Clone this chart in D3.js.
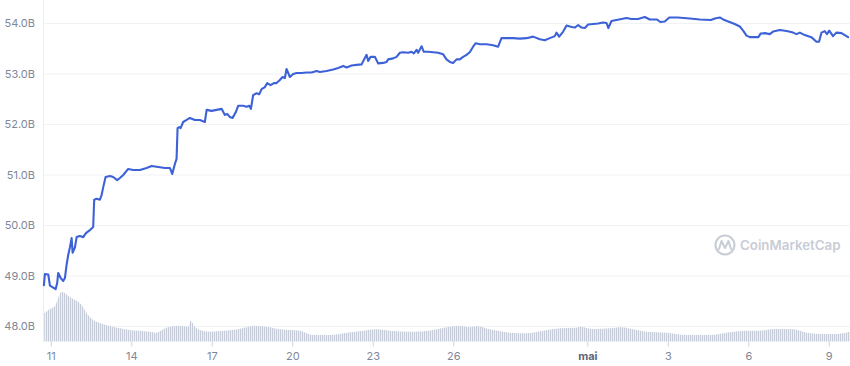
<!DOCTYPE html>
<html>
<head>
<meta charset="utf-8">
<script src="https://cdn.jsdelivr.net/npm/d3@7"></script>
<style>
  html, body { margin: 0; padding: 0; background: #fff; }
  svg { display: block; font-family: Inter, "Noto Sans", "DejaVu Sans", sans-serif; }
</style>
</head>
<body>
<svg id="chart" width="850" height="366"></svg>
<script>
// ---- DATA (hours since 2022-04-11 00:00, market cap in billions USD) ----
const startDate = new Date(2022, 3, 11, 0, 0);
const hours = [-6.2,-5.3,-2.3,-0.8,2.1,4.3,5.7,6.6,8.8,11.1,12.6,14.1,15.6,17.1,18.6,19.5,21.6,23.1,26.0,29.0,31.4,35.0,37.9,38.8,41.0,43.9,45.4,46.9,49.0,52.9,55.8,59.4,61.8,64.8,69.2,73.7,79.7,85.7,90.2,96.1,102.1,106.5,108.6,111.0,112.5,113.4,114.9,116.1,118.4,121.5,124.4,128.9,133.4,137.8,139.4,143.8,148.3,152.8,155.7,157.8,160.2,162.6,165.6,167.6,172.1,175.1,177.5,179.0,181.0,184.1,186.4,188.6,191.5,193.6,196.6,199.6,202.0,204.9,207.3,209.4,210.9,212.4,213.9,216.8,219.9,224.3,228.8,233.3,237.8,240.7,246.7,252.6,257.1,261.6,264.6,269.1,273.5,278.0,280.3,282.5,283.9,286.1,289.9,292.9,297.3,300.4,301.8,306.3,309.3,312.3,315.2,319.7,322.7,324.8,327.2,328.6,331.7,333.7,337.6,342.1,346.5,351.0,354.0,357.0,359.9,363.0,365.9,368.9,371.9,374.8,377.8,380.2,383.8,389.8,395.7,400.2,403.2,407.7,413.6,419.6,425.6,431.5,437.5,442.0,446.4,450.9,452.4,454.8,458.4,461.4,465.9,468.8,471.8,474.8,477.8,480.7,485.2,489.7,494.1,497.2,498.8,501.6,506.1,510.6,515.0,519.5,525.4,531.4,535.9,542.1,545.3,549.3,553.3,560.9,571.7,580.6,590.5,594.1,598.5,601.5,606.0,611.9,616.4,619.4,622.4,625.4,633.0,635.0,638.8,643.2,646.2,652.2,658.2,664.1,667.1,670.1,674.6,680.4,685.0,687.3,689.5,692.4,694.4,696.4,699.8,702.9,707.4,710.3,713.3];
const marketCap = [48.81,49.03,49.02,48.80,48.76,48.73,48.85,49.05,48.95,48.89,48.95,49.21,49.41,49.56,49.74,49.45,49.56,49.76,49.78,49.76,49.84,49.90,49.96,50.50,50.52,50.50,50.59,50.75,50.95,50.97,50.95,50.89,50.93,50.99,51.11,51.09,51.09,51.13,51.17,51.15,51.13,51.13,51.01,51.21,51.31,51.92,51.94,51.92,52.04,52.08,52.12,52.08,52.08,52.04,52.28,52.26,52.28,52.30,52.18,52.20,52.14,52.12,52.24,52.36,52.36,52.34,52.36,52.30,52.57,52.61,52.59,52.69,52.73,52.81,52.77,52.81,52.81,52.87,52.93,52.91,53.09,53.01,52.93,52.99,53.01,53.01,53.02,53.02,53.05,53.03,53.05,53.08,53.11,53.15,53.12,53.16,53.17,53.18,53.28,53.37,53.25,53.33,53.33,53.20,53.21,53.23,53.28,53.30,53.33,53.41,53.42,53.41,53.43,53.40,53.47,53.41,53.54,53.43,53.43,53.42,53.41,53.38,53.28,53.23,53.21,53.28,53.28,53.33,53.37,53.42,53.53,53.60,53.58,53.58,53.56,53.53,53.70,53.70,53.70,53.69,53.70,53.73,53.68,53.66,53.70,53.74,53.81,53.73,53.83,53.95,53.92,53.91,53.96,53.91,53.90,53.97,53.98,53.99,54.01,54.00,53.90,54.04,54.06,54.08,54.10,54.08,54.08,54.12,54.07,54.07,54.02,54.03,54.11,54.11,54.09,54.07,54.06,54.09,54.11,54.07,54.03,53.98,53.93,53.85,53.75,53.72,53.72,53.79,53.80,53.78,53.83,53.86,53.84,53.81,53.78,53.81,53.76,53.72,53.63,53.63,53.81,53.84,53.78,53.85,53.74,53.81,53.80,53.76,53.72];

// volume (billions USD)
const volHours = [-5.9,-0.8,3.7,6.6,9.7,12.6,15.6,20.0,24.5,27.6,32.0,37.9,43.9,52.9,61.8,70.8,79.7,88.7,94.6,100.5,106.5,115.4,122.9,125.1,128.9,133.4,142.3,151.3,163.2,175.1,181.0,193.0,204.9,213.9,222.8,234.7,249.6,264.6,279.4,291.4,303.3,324.2,342.1,354.0,365.9,374.8,380.9,392.8,410.7,425.6,440.5,455.4,470.3,473.3,485.2,500.1,510.6,520.9,532.9,550.8,568.7,589.6,604.5,622.4,634.3,646.2,664.1,676.1,690.9,702.9,715.0];
const volume = [2.82,3.25,3.55,4.35,4.98,4.85,4.55,4.25,3.98,3.65,2.85,2.15,1.85,1.55,1.32,1.15,1.08,0.98,0.88,1.22,1.48,1.58,1.48,2.08,1.48,1.15,0.98,1.05,1.15,1.42,1.58,1.48,1.22,1.15,1.08,0.65,0.65,0.88,1.08,1.22,1.08,0.98,1.15,1.42,1.58,1.42,1.55,1.22,0.88,0.82,1.08,1.32,1.38,1.48,1.25,1.32,1.42,1.22,0.98,0.88,0.65,0.65,0.88,1.08,1.08,1.25,1.22,0.88,0.75,0.75,0.98];

const yTicks = [48, 49, 50, 51, 52, 53, 54];
const xTickDates = ["2022-04-11","2022-04-14","2022-04-17","2022-04-20","2022-04-23","2022-04-26","2022-05-01","2022-05-04","2022-05-07","2022-05-10"];
const xTickLabels = ["11","14","17","20","23","26","mai","3","6","9"];

// ---- CHART ----
const toDate = h => new Date(startDate.getTime() + h * 3600 * 1000);
const priceData = hours.map((h, i) => ({ t: toDate(h), v: marketCap[i] }));
const volData = volHours.map((h, i) => ({ t: toDate(h), v: volume[i] }));
const tickDates = xTickDates.map(s => { const [y, m, d] = s.split("-").map(Number); return new Date(y, m - 1, d); });

const svg = d3.select("#chart");
const left = 43, right = 850, baseY = 341.5;

const x = d3.scaleTime().domain([toDate(-7), toDate(715)]).range([left, right]);
const y = d3.scaleLinear().domain([48, 54]).range([326, 23]);
const yVol = d3.scaleLinear().domain([0, 5]).range([baseY, 291.5]);

// pattern for volume bars
const defs = svg.append("defs");
const pat = defs.append("pattern").attr("id", "volpat").attr("patternUnits", "userSpaceOnUse")
  .attr("width", 2).attr("height", 10);
pat.append("rect").attr("width", 2).attr("height", 10).attr("fill", "#eef0f5");
pat.append("rect").attr("width", 1).attr("height", 10).attr("fill", "#c6cdd9");

// left border line
svg.append("line").attr("x1", left + 0.5).attr("x2", left + 0.5).attr("y1", 0).attr("y2", baseY)
  .attr("stroke", "#ebedf0");

// y axis with gridlines
const yAxis = svg.append("g").attr("transform", `translate(${left},0)`)
  .call(d3.axisLeft(y).tickValues(yTicks).tickSize(-(right - left)).tickPadding(8)
    .tickFormat(d => d.toFixed(1) + "B"));
yAxis.select(".domain").remove();
yAxis.selectAll(".tick line").attr("stroke", "#f1f2f4");
yAxis.selectAll(".tick text").attr("fill", "#808797").attr("font-size", 11)
  .attr("font-family", "Inter, 'Noto Sans', sans-serif");

// watermark
const wm = svg.append("g").attr("fill", "none");
wm.append("circle").attr("cx", 725).attr("cy", 245).attr("r", 9.5).attr("stroke", "#c8cdd6").attr("stroke-width", 2.2);
wm.append("path").attr("d", "M719,249 L721.5,241 L725,248 L728.5,241 L731,249")
  .attr("stroke", "#c8cdd6").attr("stroke-width", 2).attr("stroke-linejoin", "round").attr("stroke-linecap", "round");
svg.append("text").attr("x", 740).attr("y", 250).text("CoinMarketCap")
  .attr("fill", "#c8cdd6").attr("font-size", 13.3).attr("font-weight", 600);

// volume area
svg.append("path").datum(volData)
  .attr("fill", "url(#volpat)")
  .attr("d", d3.area().x(d => x(d.t)).y0(baseY).y1(d => yVol(d.v)).curve(d3.curveMonotoneX));

// price line
svg.append("path").datum(priceData)
  .attr("fill", "none").attr("stroke", "#3d62d8").attr("stroke-width", 2.1)
  .attr("stroke-linejoin", "round").attr("stroke-linecap", "round")
  .attr("d", d3.line().x(d => x(d.t)).y(d => y(d.v)));

// x axis
const xAxis = svg.append("g").attr("transform", `translate(0,${baseY})`)
  .call(d3.axisBottom(x).tickValues(tickDates).tickSize(5).tickPadding(6)
    .tickFormat((d, i) => xTickLabels[i]));
xAxis.select(".domain").remove();
xAxis.selectAll(".tick line").attr("stroke", "#cfd3da");
xAxis.selectAll(".tick text").attr("font-size", 11)
  .attr("font-family", "Inter, 'Noto Sans', sans-serif")
  .attr("font-weight", (d, i) => xTickLabels[i] === "mai" ? 700 : 400)
  .attr("fill", (d, i) => xTickLabels[i] === "mai" ? "#5d6679" : "#808797");
</script>
</body>
</html>
